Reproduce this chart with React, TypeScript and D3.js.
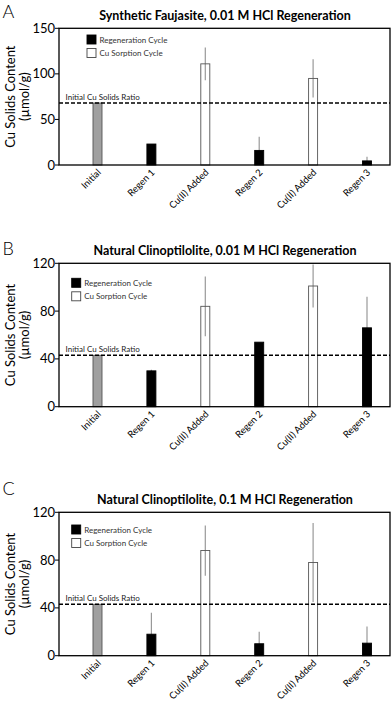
import React from 'react';
import * as d3 from 'd3';

// categories along the x axis (same for all three panels)
const categories = ['Initial', 'Regen 1', 'Cu(II) Added', 'Regen 2', 'Cu(II) Added', 'Regen 3'];
const kinds = ['initial', 'regen', 'sorption', 'regen', 'sorption', 'regen'];

// panel A: synthetic faujasite, 0.01 M HCl
const valuesA = [68, 23, 111, 16, 95, 4.5];
const errorsA = [0, 0, 18, 15, 21, 4.5];
const ticksA = [0, 50, 100, 150];

// panel B: natural clinoptilolite, 0.01 M HCl
const valuesB = [43, 30, 84, 54, 101, 66];
const errorsB = [0, 1, 25, 0, 18, 26];
const ticksB = [0, 40, 80, 120];

// panel C: natural clinoptilolite, 0.1 M HCl
const valuesC = [43, 18, 88, 10, 78, 10.5];
const errorsC = [0, 18, 21, 10, 33, 14];
const ticksC = [0, 40, 80, 120];

const legendLabels = ['Regeneration Cycle', 'Cu Sorption Cycle'];

const FONT = 'Lato, "Open Sans", sans-serif';

type PanelProps = {
  letter: string;
  letterY: number;
  title: string;
  values: number[];
  errors: number[];
  ticks: number[];
  top: number;
  bottom: number;
  legendX: number;
  legendY: number;
};

function Panel({ letter, letterY, title, values, errors, ticks, top, bottom, legendX, legendY }: PanelProps) {
  const left = 59;
  const right = 390;
  const yMax = ticks[ticks.length - 1];
  const y = d3.scaleLinear().domain([0, yMax]).range([bottom, top]);
  const x = d3.scalePoint<number>().domain(d3.range(categories.length)).range([left + 38.5, right - 23]);
  const bw = 9;
  const initY = y(values[0]);
  const midY = (top + bottom) / 2;

  return (
    <g>
      <text x={2.5} y={letterY} fontSize={18} fontFamily={FONT} fontWeight={300}>{letter}</text>
      <text x={225} y={top - 8.5} fontSize={12.5} fontWeight="bold" textAnchor="middle" fontFamily={FONT}>{title}</text>

      {/* y axis label */}
      <text transform={`translate(15,${midY}) rotate(-90)`} fontSize={13} textAnchor="middle" fontFamily={FONT}>Cu Solids Content</text>
      <text transform={`translate(29,${midY}) rotate(-90)`} fontSize={13} textAnchor="middle" fontFamily={FONT}>(µmol/g)</text>

      {ticks.map(t => (
        <g key={t}>
          <line x1={left - 4} x2={left} y1={y(t)} y2={y(t)} stroke="#000" />
          <text x={left - 4} y={y(t) + 4.5} fontSize={13} textAnchor="end" fontFamily={FONT}>{t}</text>
        </g>
      ))}

      {/* error bars drawn first, so solid bars hide their lower half */}
      {values.map((v, i) => errors[i] > 0 ? (
        <line key={'e' + i} x1={x(i)} x2={x(i)}
          y1={y(Math.max(0, v - errors[i]))} y2={y(Math.min(yMax, v + errors[i]))}
          stroke="#999" strokeWidth={1.2} />
      ) : null)}

      {values.map((v, i) => {
        const k = kinds[i];
        const fill = k === 'initial' ? '#a0a0a0' : k === 'regen' ? '#000' : 'none';
        const stroke = k === 'regen' ? '#000' : '#555';
        return (
          <rect key={'b' + i} x={x(i)! - bw / 2} y={y(v)} width={bw} height={bottom - y(v)}
            fill={fill} stroke={stroke} strokeWidth={0.9} />
        );
      })}

      {/* initial ratio reference line */}
      <line x1={left} x2={right} y1={initY} y2={initY} stroke="#000" strokeWidth={1.5} strokeDasharray="4,2" />
      <text x={65.5} y={initY - 3.5} fontSize={8} fill="#222" fontFamily={FONT}>Initial Cu Solids Ratio</text>

      <rect x={left} y={top} width={right - left} height={bottom - top} fill="none" stroke="#000" strokeWidth={1.3} />

      {categories.map((c, i) => (
        <text key={'x' + i} transform={`translate(${x(i)! + 4},${bottom + 8}) rotate(-45)`}
          fontSize={9.5} textAnchor="end" fontFamily={FONT}>{c}</text>
      ))}

      {legendLabels.map((l, i) => (
        <g key={l} transform={`translate(${legendX},${legendY + i * 13.5})`}>
          <rect x={0} y={0} width={9} height={9} fill={i === 0 ? '#000' : '#fff'} stroke={i === 0 ? '#000' : '#444'} strokeWidth={0.9} />
          <text x={12.5} y={7.5} fontSize={8} fill="#333" fontFamily={FONT}>{l}</text>
        </g>
      ))}
    </g>
  );
}

export default function App() {
  return (
    <svg width={392} height={703} style={{ position: 'absolute', left: 0, top: 0, background: '#fff' }}>
      <Panel letter="A" letterY={18} title="Synthetic Faujasite, 0.01 M HCl Regeneration" values={valuesA} errors={errorsA}
        ticks={ticksA} top={28.3} bottom={165} legendX={87} legendY={35} />
      <Panel letter="B" letterY={255} title="Natural Clinoptilolite, 0.01 M HCl Regeneration" values={valuesB} errors={errorsB}
        ticks={ticksB} top={263.3} bottom={406.7} legendX={71.7} legendY={278.3} />
      <Panel letter="C" letterY={495} title="Natural Clinoptilolite, 0.1 M HCl Regeneration" values={valuesC} errors={errorsC}
        ticks={ticksC} top={512.3} bottom={655.7} legendX={71.7} legendY={525} />
    </svg>
  );
}
